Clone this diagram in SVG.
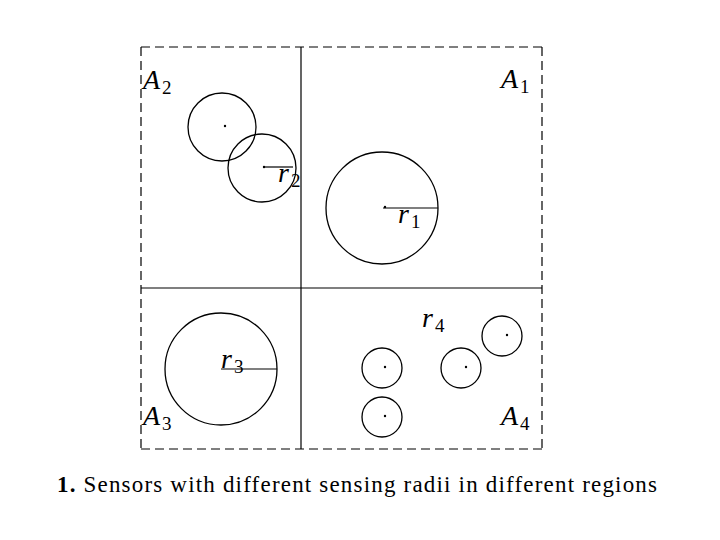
<svg xmlns="http://www.w3.org/2000/svg" width="720" height="540" viewBox="0 0 720 540">
<style>
.dash{fill:none;stroke:#000;stroke-width:1.2;stroke-dasharray:9,5}
.solid{fill:none;stroke:#000;stroke-width:1.2}
.c{fill:none;stroke:#000;stroke-width:1.3}
.dot{fill:#000}
.lab{font-family:"Liberation Serif",serif;font-style:italic;font-size:28px;fill:#000}
.sub{font-family:"Liberation Serif",serif;font-size:19px;font-style:normal}
.cap{font-family:"Liberation Serif",serif;font-size:23px;fill:#000}
</style>
<rect width="720" height="540" fill="#fff"/>
<g id="frame">
<path class="dash" d="M141,47 H542 M141,449 H542 M141,47 V449 M542,47 V449"/>
<path class="solid" d="M301,47 V449 M141,288 H542"/>
</g>
<g id="connectors">
<line class="solid" x1="264" y1="167" x2="293" y2="167"/>
<line class="solid" x1="383" y1="208" x2="438" y2="208"/>
<line class="solid" x1="221" y1="369" x2="277" y2="369"/>
</g>
<g id="sensor-a2-1"><circle class="c" cx="222" cy="127" r="34"/><circle class="dot" cx="225" cy="126" r="1.2"/></g>
<g id="sensor-a2-2"><circle class="c" cx="262" cy="168" r="34"/><circle class="dot" cx="264" cy="167" r="1.2"/></g>
<g id="sensor-a1"><circle class="c" cx="382" cy="208" r="56"/><circle class="dot" cx="385" cy="207" r="1.2"/></g>
<g id="sensor-a3"><circle class="c" cx="221" cy="369" r="56"/></g>
<g id="sensor-a4-1"><circle class="c" cx="382" cy="368" r="20"/><circle class="dot" cx="385" cy="367" r="1.2"/></g>
<g id="sensor-a4-2"><circle class="c" cx="382" cy="417" r="20"/><circle class="dot" cx="385" cy="416" r="1.2"/></g>
<g id="sensor-a4-3"><circle class="c" cx="461" cy="368" r="20"/><circle class="dot" cx="466" cy="367" r="1.2"/></g>
<g id="sensor-a4-4"><circle class="c" cx="502" cy="336" r="20"/><circle class="dot" cx="507" cy="335" r="1.2"/></g>
<g id="labels">
<text class="lab" x="143" y="89">A<tspan class="sub" dx="2" dy="5">2</tspan></text>
<text class="lab" x="501" y="88">A<tspan class="sub" dx="2" dy="5">1</tspan></text>
<text class="lab" x="143" y="425">A<tspan class="sub" dx="2" dy="5">3</tspan></text>
<text class="lab" x="501" y="425">A<tspan class="sub" dx="2" dy="5">4</tspan></text>
<text class="lab" x="278" y="182">r<tspan class="sub" dx="2" dy="5">2</tspan></text>
<text class="lab" x="398" y="223">r<tspan class="sub" dx="2" dy="5">1</tspan></text>
<text class="lab" x="221" y="368">r<tspan class="sub" dx="2" dy="5">3</tspan></text>
<text class="lab" x="422" y="327">r<tspan class="sub" dx="2" dy="5">4</tspan></text>
</g>
<text class="cap" x="57" y="492" textLength="600" lengthAdjust="spacing"><tspan font-weight="bold">1.</tspan> Sensors with different sensing radii in different regions</text>
</svg>
